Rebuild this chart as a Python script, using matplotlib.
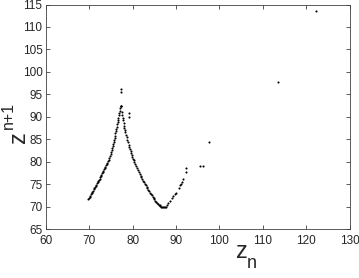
import matplotlib
matplotlib.use("Agg")
import matplotlib.pyplot as plt

plt.rcParams['font.family'] = ['Liberation Sans', 'DejaVu Sans']

# Left (rising) branch of the map
left_x = [69.8, 69.95, 70.1, 70.25, 70.4, 70.55, 70.7, 70.85, 71.0, 71.15, 71.3, 71.45,
          71.6, 71.75, 71.9, 72.05, 72.2, 72.35, 72.5, 72.65, 72.8, 72.95, 73.1, 73.25,
          73.4, 73.55, 73.7, 73.85, 74.0, 74.15, 74.3, 74.45, 74.6, 74.75, 74.9, 75.05,
          75.2, 75.3, 75.4, 75.5, 75.6, 75.7, 75.8, 75.9, 76.0, 76.1, 76.2, 76.3,
          76.4, 76.5, 76.6, 76.7, 76.8, 76.9, 77.0, 77.1, 77.2, 77.3, 77.4]
left_y = [71.6, 71.85, 72.1, 72.4, 72.7, 72.95, 73.2, 73.5, 73.8, 74.05, 74.3, 74.6,
          74.9, 75.15, 75.4, 75.65, 75.9, 76.2, 76.5, 76.8, 77.1, 77.4, 77.7, 78.0,
          78.3, 78.6, 78.9, 79.2, 79.5, 79.8, 80.1, 80.45, 80.8, 81.2, 81.6, 82.05,
          82.5, 82.95, 83.4, 83.85, 84.3, 84.8, 85.3, 85.8, 86.3, 86.8, 87.3, 87.8,
          88.3, 88.8, 89.3, 89.8, 90.3, 90.75, 91.2, 91.9, 92.5, 92.5, 92.4]
# Right (falling) branch down to the minimum
right_x = [77.5, 77.6, 77.7, 77.8, 77.9, 78.0, 78.1, 78.2, 78.3, 78.45, 78.6, 78.75,
           78.9, 79.05, 79.2, 79.35, 79.5, 79.65, 79.8, 79.95, 80.1, 80.25, 80.4, 80.6,
           80.8, 81.0, 81.2, 81.4, 81.6, 81.8, 82.0, 82.2, 82.4, 82.6, 82.8, 83.0,
           83.2, 83.4, 83.6, 83.8, 84.0, 84.2, 84.4, 84.6, 84.8, 85.0, 85.2, 85.4,
           85.6, 85.8, 86.0, 86.2, 86.4, 86.6, 86.8, 87.0, 87.2, 87.4, 87.6]
right_y = [91.0, 90.4, 89.8, 89.2, 88.6, 88.05, 87.5, 87.0, 86.5, 85.95, 85.4, 84.85,
           84.3, 83.8, 83.3, 82.85, 82.4, 81.95, 81.5, 81.1, 80.7, 80.3, 79.9, 79.45,
           79.0, 78.55, 78.1, 77.7, 77.3, 76.9, 76.5, 76.15, 75.8, 75.45, 75.1, 74.75,
           74.4, 74.05, 73.7, 73.4, 73.1, 72.8, 72.5, 72.2, 71.9, 71.6, 71.3, 71.05,
           70.8, 70.6, 70.4, 70.25, 70.1, 70.0, 69.9, 69.85, 69.8, 69.85, 69.9]
# Sparse points after the minimum and outliers
tail_x = [87.8, 88.2, 88.6, 89.0, 89.4, 89.7, 90.0, 90.6, 90.9, 91.1, 91.3, 91.7,
          92.4, 92.4, 95.5, 96.2, 97.6, 113.4, 122.3]
tail_y = [70.3, 70.8, 71.3, 71.9, 72.4, 72.8, 73.0, 74.2, 74.8, 75.1, 75.5, 76.1,
          77.8, 78.6, 79.0, 79.0, 84.4, 97.7, 113.6]
# Scattered points near the peak
peak_x = [77.2, 77.2, 79.2, 79.2]
peak_y = [96.2, 95.6, 90.9, 89.9]

xticks = [60, 70, 80, 90, 100, 110, 120, 130]
yticks = [65, 70, 75, 80, 85, 90, 95, 100, 105, 110, 115]
label_main = 'z'
xlabel_sub = 'n'
ylabel_sub = 'n+1'

W, H = 359, 278
fig = plt.figure(figsize=(W / 100, H / 100), dpi=100)
ax = fig.add_axes([46 / W, 49 / H, 303.5 / W, 224.5 / H])

for xs, ys in [(left_x, left_y), (right_x, right_y), (tail_x, tail_y), (peak_x, peak_y)]:
    ax.plot(xs, ys, linestyle='none', marker='o', markersize=1.5, color='black',
            markeredgewidth=0)

ax.set_xlim(60, 130)
ax.set_ylim(65, 115)
ax.set_xticks(xticks)
ax.set_yticks(yticks)
ax.tick_params(direction='in', top=True, right=True, length=3, width=0.6,
               color='#404040', labelsize=8.5, labelcolor='#262626', pad=4)
ax.tick_params(axis='y', pad=2.5)
for s in ax.spines.values():
    s.set_linewidth(0.6)
    s.set_color('#404040')

tc = '#262626'
# x label: z with a low subscript n (MATLAB style)
fig.text(236 / W, 1 - 258 / H, label_main, fontsize=17, color=tc,
         ha='left', va='baseline')
fig.text(247 / W, 1 - 268 / H, xlabel_sub, fontsize=13, color=tc,
         ha='left', va='baseline')
# y label, rotated
fig.text(25.5 / W, 1 - 143 / H, label_main, fontsize=17, color=tc, rotation=90,
         rotation_mode='anchor', ha='left', va='baseline')
fig.text(12.5 / W, 1 - 129 / H, ylabel_sub, fontsize=11.5, color=tc, rotation=90,
         rotation_mode='anchor', ha='left', va='baseline')

fig.savefig('out.png', dpi=100)
